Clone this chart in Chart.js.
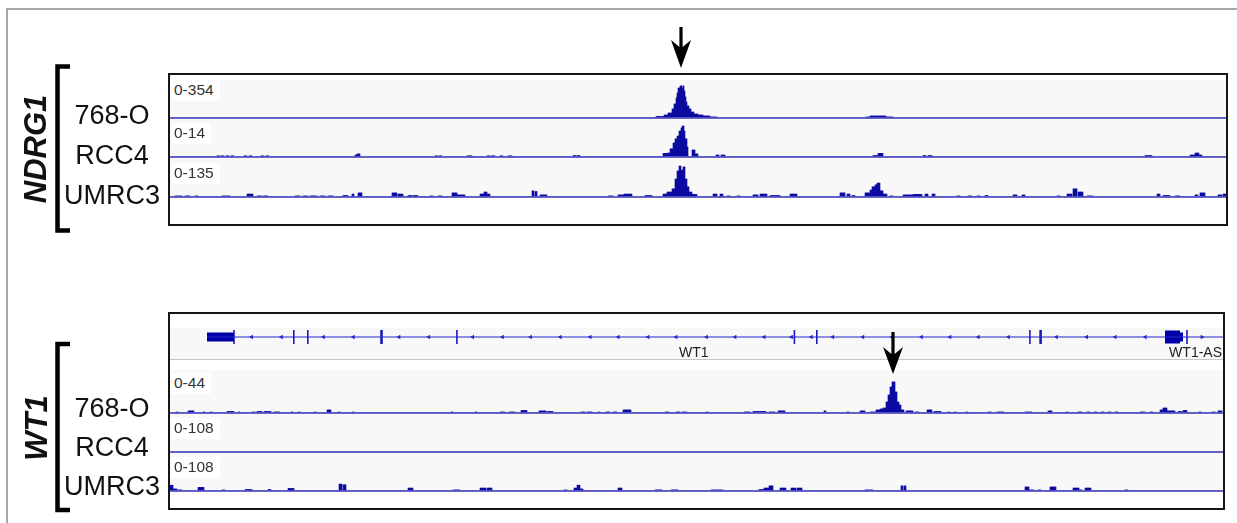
<!DOCTYPE html>
<html>
<head>
<meta charset="utf-8">
<script src="https://cdn.jsdelivr.net/npm/chart.js"></script>
<style>
body{margin:0;background:#fff}
#fig{position:relative;width:1237px;height:523px;overflow:hidden;font-family:"Liberation Sans",Arial,sans-serif}
#fig canvas{position:absolute}
.box{position:absolute;border:2px solid #161616;box-sizing:border-box}
.band{position:absolute;background:#f8f8f8}
.rng{position:absolute;font-size:15.5px;line-height:16px;color:#333;background:#fff;padding:2px 6px 3px 3px}
.name{position:absolute;left:57px;width:110px;text-align:center;font-size:27px;line-height:30px;color:#111}
.gene{position:absolute;font-size:14px;line-height:16px;color:#222}
.gname{position:absolute;font-weight:bold;font-style:italic;font-size:31px;line-height:34px;color:#111;transform:translate(-50%,-50%) rotate(-90deg);white-space:nowrap}
svg{position:absolute;left:0;top:0}
</style>
</head>
<body>
<div id="fig">
  <div class="box" style="left:168px;top:73px;width:1060px;height:153px"></div>
  <div class="box" style="left:168px;top:312px;width:1057px;height:198px"></div>
</div>
<script>
// bins are 1 screen unit wide, position 0 = left edge of the data area
const nTop = 1056;
const nBot = 1053;
const trackNames = ['768-O', 'RCC4', 'UMRC3'];
const ndrg1Ranges = [354, 14, 135];
const wt1Ranges = [44, 108, 108];

// coverage as [start, end, value]
const ndrg1_768O = [[486,494,14],[494,498,27],[498,502,45],[502,504,82],[504,506,127],[506,507,182],[507,508,227],[508,510,272],[510,512,291],[512,513,272],[513,514,291],[514,515,245],[515,516,191],[516,517,145],[517,519,109],[519,521,82],[521,524,54],[524,528,36],[528,533,27],[533,540,18],[540,547,9],
  [696,700,9],[700,716,18],[716,723,9]];
const ndrg1_RCC4 = [[47,50,0.4],[51,54,0.4],[56,59,0.4],[61,64,0.4],[74,77,0.4],[79,82,0.4],[91,94,0.4],[96,99,0.4],
  [185,187,0.7],[187,190,1.1],[265,268,0.4],[269,272,0.4],[297,302,0.4],[317,320,0.4],[321,325,0.4],[330,333,0.4],[338,342,0.4],[403,406,0.5],[407,410,0.5],
  [493,497,1.3],[497,500,1.4],[500,503,2.9],[503,505,5.0],[505,507,6.5],[507,509,7.5],[509,511,9.3],[511,512,10.4],[512,514,11.1],[514,515,9.3],[515,517,6.5],[517,518,3.6],
  [522,525,2.5],[525,528,1.1],[546,549,0.7],[551,555,0.7],[703,708,0.5],[708,713,1.3],[753,756,0.5],[758,762,0.5],[975,982,0.5],
  [1020,1025,0.7],[1025,1029,1.4],[1029,1032,0.7]];
const ndrg1_UMRC3 = [[5,12,3.5],[15,20,3.5],[25,28,3.5],[52,60,3.5],[77,83,10],[87,92,3.5],[93,98,3.5],[125,130,3.5],[133,138,3.5],[140,147,3.5],[150,155,3.5],[158,163,3.5],[173,178,5],[182,184,10],[188,192,14],
  [222,227,14],[228,233,10],[238,242,5],[243,248,5],[260,263,3.5],[268,272,3.5],[282,287,14],[287,295,7],[310,314,10],[314,317,17],[317,320,10],[362,364,21],[365,367,19],[370,377,7],[438,443,3.5],[448,454,7],[454,462,10],[475,482,5],
  [493,497,10],[497,502,17],[502,505,28],[505,507,62],[507,509,90],[509,511,107],[511,513,93],[513,515,104],[515,517,62],[517,519,35],[519,522,17],[522,527,9],
  [543,547,10],[550,553,10],[557,560,3.5],[567,570,3.5],[583,588,7],[590,597,10],[600,610,5],[620,627,10],[670,675,14],[677,680,10],[682,685,5],
  [695,700,14],[700,702,24],[702,705,35],[705,707,42],[707,710,48],[710,713,21],[713,717,10],[720,723,3.5],
  [733,743,7],[743,752,9],[755,758,10],[762,765,10],[787,790,3.5],[798,802,3.5],[807,810,3.5],[815,818,5],[843,847,7],[852,855,7],[887,890,3.5],[897,902,10],[903,907,28],[908,913,17],[917,923,3.5],
  [987,990,10],[993,1000,5],[1005,1010,3.5],[1025,1028,7],[1030,1035,14],[1048,1052,7],[1053,1056,10]];

const wt1_768O = [[6,8,1.1],[18,24,2.3],[33,35,1.1],[40,42,1.1],[57,64,1.7],[68,70,1.1],[82,85,1.1],[87,92,1.7],[94,101,1.7],[104,110,1.1],[121,123,1.1],[128,130,1.1],[144,146,1.1],[157,161,3.4],[168,170,1.1],[182,184,1.1],
  [281,283,1.1],[305,307,1.1],[330,335,1.1],[339,345,1.1],[351,357,2.8],[369,376,2.3],[377,383,1.7],[411,415,1.1],[417,422,1.1],[428,430,1.1],[436,440,1.1],[443,447,1.1],[453,461,3.4],[495,499,1.1],[506,510,1.1],[512,517,1.1],
  [536,538,1.1],[574,580,1.1],[583,596,1.7],[599,605,1.1],[608,615,2.3],[654,656,2.3],[677,679,1.1],[690,695,2.3],[700,706,1.1],
  [706,710,3.4],[710,713,4.5],[713,716,5.6],[716,718,12.4],[718,720,20.3],[720,722,29.3],[722,725,35],[725,727,23.7],[727,729,12.4],[729,731,9],[731,734,3.4],
  [736,743,2.3],[745,749,1.1],[757,762,3.4],[764,771,1.7],[778,780,1.1],[784,786,1.1],[796,798,1.1],[818,821,1.1],[827,834,1.1],[855,862,1.1],[878,882,2.3],[896,898,1.1],[908,912,1.1],
  [917,920,1.1],[924,927,1.1],[931,934,1.1],[938,941,1.1],[945,948,1.1],[970,975,1.1],[980,983,1.1],[990,993,3.4],[993,997,5.6],[997,1005,2.3],[1008,1012,1.7],[1013,1017,2.8],[1029,1031,1.1],[1042,1045,1.1],[1048,1052,2.3]];
const wt1_RCC4 = [];
const wt1_UMRC3 = [[0,3,16],[3,7,5.5],[8,12,2.8],[28,34,10],[52,55,2.8],[75,82,4],[98,101,4],[118,124,7],[169,172,19],[173,176,17],[238,243,8],[283,290,2.8],[310,316,8],[317,322,8],
  [394,397,2.8],[404,407,8],[407,410,16],[410,413,5.5],[448,452,8],[485,492,2.8],[501,508,2.8],[541,553,2.8],[589,594,4],[594,599,8],[599,603,14],[610,616,8],[621,626,8],[627,632,8],
  [695,703,2.8],[731,733,14],[734,736,14],[855,859,11],[859,864,2.8],[868,871,2.8],[880,883,11],[883,886,11],[903,909,8],[909,912,2.8],[915,921,8],[955,958,2.8]];

// gene model (same position units as the bottom tracks)
const wt1Line = [37, 1053];
const wt1Utr = [[37, 64]];
const wt1AsExon = [[995, 1010]];
const wt1AsNotch = [[1010, 1013]];
const wt1Exons = [64, 123.8, 137.8, 286.9, 624.4, 646.8, 859.9, 1017];
const wt1ExonsWide = [211.5, 870.6];
const wt1Minus = [81.7, 111.5, 153.6, 183.4, 229, 258.8, 302.7, 332.5, 360.6, 390.4, 420.2, 448.3, 478.1, 506.1, 536.6, 565.1, 594.2, 621.5, 641.4, 662.8, 692.9, 722, 751.6, 780, 808.4, 838.6, 886.6, 916.7, 945.2, 975.3];
const wt1Plus = [1032];

const fig = document.getElementById('fig');

function add(tag, cls, css, text) {
  const e = document.createElement(tag);
  if (cls) e.className = cls;
  if (css) e.style.cssText = css;
  if (text) e.textContent = text;
  fig.appendChild(e);
  return e;
}

const baselinePlugin = {
  id: 'baseline',
  afterDatasetsDraw(chart) {
    const ctx = chart.ctx;
    const y = chart.scales.y.getPixelForValue(0);
    ctx.save();
    ctx.fillStyle = '#5757c6';
    ctx.fillRect(chart.chartArea.left, y - 0.9, chart.chartArea.right - chart.chartArea.left, 1.8);
    ctx.restore();
  }
};

function coverage(segs, n, maxVal, left, base) {
  const values = new Array(n).fill(0);
  segs.forEach(s => { for (let i = s[0]; i < s[1] && i < n; i++) values[i] = s[2]; });
  const bins = values.map((v, i) => i);
  const cv = add('canvas', '', 'left:' + left + 'px;top:' + (base - 39) + 'px');
  cv.width = n;
  cv.height = 41;
  return new Chart(cv, {
    type: 'bar',
    data: {labels: bins, datasets: [{data: values, backgroundColor: '#0b0ba0', borderWidth: 0, barPercentage: 1, categoryPercentage: 1}]},
    options: {
      responsive: false, animation: false, events: [], devicePixelRatio: 1,
      layout: {padding: {bottom: 2}, autoPadding: false},
      plugins: {legend: {display: false}, tooltip: {enabled: false}},
      scales: {x: {display: false}, y: {display: false, min: 0, max: maxVal}}
    },
    plugins: [baselinePlugin]
  });
}

function panel(p) {
  for (let i = 0; i < 3; i++) {
    add('div', 'band', 'left:170px;width:' + p.n + 'px;top:' + p.bandTops[i] + 'px;height:' + (p.bases[i] - p.bandTops[i]) + 'px');
  }
  for (let i = 0; i < 3; i++) coverage(p.series[i], p.n, p.ranges[i], 170, p.bases[i]);
  for (let i = 0; i < 3; i++) {
    add('div', 'rng', 'left:171px;top:' + (p.labelY[i] - 10) + 'px', '0-' + p.ranges[i]);
    add('div', 'name', 'top:' + (p.nameY[i] - 15) + 'px', trackNames[i]);
  }
}

panel({n: nTop, series: [ndrg1_768O, ndrg1_RCC4, ndrg1_UMRC3], ranges: ndrg1Ranges,
  bases: [118, 157, 197], bandTops: [80, 118, 157], labelY: [90, 133, 173], nameY: [115, 155, 195]});

// gene track
add('div', 'band', 'left:170px;width:' + nBot + 'px;top:328px;height:31px');
add('div', '', 'position:absolute;left:170px;width:' + nBot + 'px;top:359px;height:1px;background:#c6c6c6');

panel({n: nBot, series: [wt1_768O, wt1_RCC4, wt1_UMRC3], ranges: wt1Ranges,
  bases: [413, 452, 491], bandTops: [370, 413, 452], labelY: [383, 428, 467], nameY: [408, 447, 486]});

const gcv = add('canvas', '', 'left:170px;top:319px');
gcv.width = nBot;
gcv.height = 36;
const geneBlue = '#2626cc';
const seg = (a, w, col) => ({data: [{x: a[0], y: 0}, {x: a[1], y: 0}], showLine: true, borderColor: col, borderWidth: w, borderCapStyle: 'butt', pointRadius: 0});
new Chart(gcv, {
  type: 'scatter',
  data: {datasets: [
    seg(wt1Line, 1.2, geneBlue),
    ...wt1Utr.map(a => seg(a, 9, '#0000a8')),
    ...wt1AsExon.map(a => seg(a, 13, '#0000a8')),
    ...wt1AsNotch.map(a => seg(a, 9, '#0000a8')),
    {data: wt1Exons.map(x => ({x: x, y: 0})), pointStyle: 'line', pointRotation: 90, pointRadius: 7, pointBorderWidth: 1.6, pointBorderColor: '#1a1ab8'},
    {data: wt1ExonsWide.map(x => ({x: x, y: 0})), pointStyle: 'line', pointRotation: 90, pointRadius: 7, pointBorderWidth: 2.6, pointBorderColor: '#1a1ab8'},
    {data: wt1Minus.map(x => ({x: x, y: 0})), pointStyle: 'triangle', pointRotation: 270, pointRadius: 2.6, pointBackgroundColor: geneBlue, pointBorderWidth: 0},
    {data: wt1Plus.map(x => ({x: x, y: 0})), pointStyle: 'triangle', pointRotation: 90, pointRadius: 2.6, pointBackgroundColor: geneBlue, pointBorderWidth: 0}
  ]},
  options: {
    responsive: false, animation: false, events: [], devicePixelRatio: 1,
    layout: {padding: 0, autoPadding: false},
    plugins: {legend: {display: false}, tooltip: {enabled: false}},
    scales: {x: {display: false, min: 0, max: nBot}, y: {display: false, min: -18, max: 18}}
  }
});
add('div', 'gene', 'left:679px;top:344px', 'WT1');
add('div', 'gene', 'left:1100px;width:122px;text-align:right;top:344px', 'WT1-AS');

add('div', 'gname', 'left:36px;top:149px', 'NDRG1');
add('div', 'gname', 'left:37px;top:428px', 'WT1');

// frame, brackets and the two peak arrows
const arrow = (x, y0, yh, yt) => 'M' + (x - 1.6) + ' ' + y0 + 'H' + (x + 1.6) + 'V' + (yh + 7) + 'L' + (x + 10) + ' ' + yh + 'L' + x + ' ' + yt + 'L' + (x - 10) + ' ' + yh + 'L' + (x - 1.6) + ' ' + (yh + 7) + 'Z';
fig.insertAdjacentHTML('beforeend',
  '<svg width="1237" height="523">' +
  '<path d="M7 523V9H1237" fill="none" stroke="#8a8a8a" stroke-width="1.5"/>' +
  '<path d="M70 66.5H57.5V230.5H70" fill="none" stroke="#000" stroke-width="4.5"/>' +
  '<path d="M70 344H57.5V510H70" fill="none" stroke="#000" stroke-width="4.5"/>' +
  '<path d="' + arrow(681, 27, 40, 68) + '" fill="#000"/>' +
  '<path d="' + arrow(893, 332, 347, 374) + '" fill="#000"/>' +
  '</svg>');
</script>
</body>
</html>
